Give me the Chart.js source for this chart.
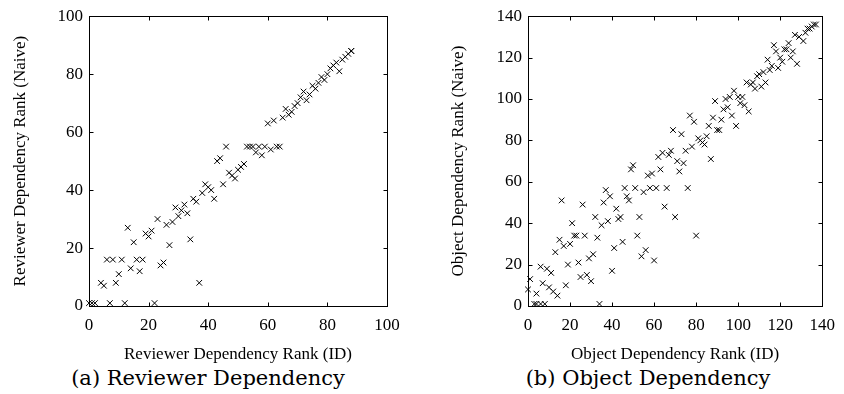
<!DOCTYPE html>
<html>
  <head>
    <title>Dependency rank: ID vs Naive</title>
    <script src="https://cdn.jsdelivr.net/npm/chart.js"></script>
    <style>
      body { margin: 0; background: #fff; width: 844px; height: 394px; position: relative; overflow: hidden; }
      canvas { position: absolute; top: 0; }
      #chartA { left: 0; }
      #chartB { left: 422px; }
      .caption { position: absolute; top: 366px; width: 400px; text-align: center; font-family: "DejaVu Serif", serif; font-size: 21px; line-height: 24px; color: #000; white-space: nowrap; }
    </style>
  </head>
  <body>
    <canvas id="chartA" width="420" height="365"></canvas>
    <canvas id="chartB" width="422" height="365"></canvas>
    <div class="caption" style="left: 8px">(a) Reviewer Dependency</div>
    <div class="caption" style="left: 448px">(b) Object Dependency</div>

    <script>
      // (a) reviewer dependency: rank by ID vs rank by naive method
      const reviewerID = [
        0, 1, 2, 7, 12, 22, 4, 5, 9, 10, 6, 8, 11, 16, 18, 14, 17, 13, 15, 19,
        20, 21, 23, 24, 25, 27, 26, 28, 29, 30, 31, 32, 33, 34, 35, 36, 37, 38, 39, 40,
        41, 42, 45, 43, 44, 46, 47, 48, 49, 50, 51, 52, 53, 54, 55, 57, 59, 63, 64, 56,
        58, 61, 60, 62, 65, 67, 68, 66, 69, 70, 71, 72, 73, 74, 75, 76, 77, 78, 79, 80,
        81, 82, 83, 84, 85, 86, 87, 88, 88
      ];
      const reviewerNaive = [
        1, 1, 1, 1, 1, 1, 8, 7, 8, 11, 16, 16, 16, 16, 16, 13, 12, 27, 22, 25,
        24, 26, 30, 14, 15, 21, 28, 29, 34, 31, 33, 35, 32, 23, 37, 36, 8, 39, 42, 41,
        40, 37, 42, 50, 51, 55, 46, 45, 44, 47, 48, 49, 55, 55, 55, 55, 55, 55, 55, 53,
        52, 54, 63, 64, 65, 66, 67, 68, 69, 70, 72, 74, 71, 73, 76, 75, 77, 79, 78, 80,
        82, 83, 84, 81, 85, 86, 87, 88, 88
      ];

      // (b) object dependency
      const objectID = [
        137, 136, 135, 134, 133, 132, 127, 129, 131, 128, 125, 126, 124, 122, 123, 118, 117, 120, 121, 119,
        116, 115, 114, 113, 111, 112, 110, 109, 108, 107, 106, 104, 105, 103, 101, 100, 102, 98, 96, 94,
        95, 93, 97, 99, 92, 90, 91, 89, 88, 86, 85, 83, 84, 82, 81, 78, 75, 77, 79, 74,
        72, 71, 73, 69, 87, 76, 68, 67, 64, 62, 63, 57, 59, 50, 49, 66, 61, 58, 55, 51,
        46, 47, 48, 37, 39, 16, 26, 36, 65, 70, 80, 42, 43, 44, 53, 32, 35, 38, 21, 22,
        23, 27, 1, 0, 4, 3, 4, 6, 8, 6, 7, 9, 11, 10, 12, 14, 15, 13, 17, 20,
        18, 19, 24, 25, 28, 30, 29, 31, 33, 34, 40, 41, 45, 52, 56, 54, 60
      ];
      const objectNaive = [
        136, 136, 135, 134, 134, 132, 131, 130, 128, 117, 120, 123, 127, 124, 124, 123, 126, 120, 118, 115,
        116, 114, 119, 108, 106, 113, 112, 111, 105, 108, 107, 108, 94, 97, 98, 101, 101, 104, 101, 100,
        96, 95, 92, 87, 90, 85, 85, 99, 91, 87, 82, 79, 78, 80, 81, 77, 75, 92, 89, 69,
        65, 70, 83, 85, 71, 57, 75, 73, 74, 72, 66, 63, 64, 68, 66, 57, 57, 57, 55, 57,
        57, 53, 51, 56, 53, 51, 49, 50, 48, 43, 34, 47, 42, 43, 43, 43, 39, 41, 40, 34,
        34, 34, 13, 8, 6, 1, 1, 1, 1, 19, 11, 18, 16, 9, 7, 5, 32, 26, 29, 30,
        10, 20, 21, 14, 15, 12, 23, 25, 33, 1, 17, 28, 31, 34, 27, 24, 22
      ];

      const xTicksA = [0, 20, 40, 60, 80, 100];
      const xTicksB = [0, 20, 40, 60, 80, 100, 120, 140];

      Chart.defaults.font.family = "'Liberation Serif', 'Times New Roman', serif";
      Chart.defaults.color = "#000";

      // gnuplot style box with tick marks pointing inwards on all four sides
      const framePlugin = {
        id: "frame",
        afterDraw(chart) {
          const { ctx, chartArea: a, scales } = chart;
          const l = Math.round(a.left) + 0.5;
          const r = Math.round(a.right) + 0.5;
          const t = Math.round(a.top) + 0.5;
          const b = Math.round(a.bottom) + 0.5;
          const len = 4;
          ctx.save();
          ctx.strokeStyle = "#000";
          ctx.lineWidth = 1;
          ctx.strokeRect(l, t, r - l, b - t);
          ctx.beginPath();
          scales.x.ticks.forEach((tk) => {
            const px = Math.round(scales.x.getPixelForValue(tk.value)) + 0.5;
            ctx.moveTo(px, b);
            ctx.lineTo(px, b - len);
            ctx.moveTo(px, t);
            ctx.lineTo(px, t + len);
          });
          scales.y.ticks.forEach((tk) => {
            const py = Math.round(scales.y.getPixelForValue(tk.value)) + 0.5;
            ctx.moveTo(l, py);
            ctx.lineTo(l + len, py);
            ctx.moveTo(r, py);
            ctx.lineTo(r - len, py);
          });
          ctx.stroke();
          ctx.restore();
        },
      };

      function makeChart(id, xs, ys, tickVals, opts) {
        const maxV = tickVals[tickVals.length - 1];
        const pts = xs.map((x, i) => ({ x: x, y: ys[i] }));
        return new Chart(document.getElementById(id), {
          type: "scatter",
          data: {
            datasets: [
              {
                data: pts,
                pointStyle: "crossRot",
                pointRadius: 4,
                pointBorderWidth: 1,
                borderColor: "#000",
                backgroundColor: "#000",
                clip: false,
              },
            ],
          },
          options: {
            responsive: false,
            animation: false,
            layout: { padding: { top: 16, right: opts.padRight, bottom: 0, left: 0 } },
            plugins: { legend: { display: false }, tooltip: { enabled: false } },
            scales: {
              x: {
                type: "linear",
                min: 0,
                max: maxV,
                afterBuildTicks: (s) => { s.ticks = tickVals.map((v) => ({ value: v })); },
                ticks: { padding: 9, font: { size: 17 }, maxRotation: 0, autoSkip: false },
                grid: { display: false, drawTicks: false },
                border: { display: false },
                title: {
                  display: true,
                  text: opts.xTitle,
                  font: { size: 17 },
                  padding: { top: 5, bottom: 0 },
                },
                afterFit: (s) => { s.height = 59; },
              },
              y: {
                type: "linear",
                min: 0,
                max: maxV,
                afterBuildTicks: (s) => { s.ticks = tickVals.map((v) => ({ value: v })); },
                ticks: { padding: 6, font: { size: 17 }, autoSkip: false },
                grid: { display: false, drawTicks: false },
                border: { display: false },
                title: {
                  display: true,
                  text: opts.yTitle,
                  font: { size: 17 },
                  padding: { top: opts.yTitlePad, bottom: 0 },
                },
                afterFit: (s) => { s.width = opts.yWidth; },
              },
            },
          },
          plugins: [framePlugin],
        });
      }

      makeChart("chartA", reviewerID, reviewerNaive, xTicksA, {
        xTitle: "Reviewer Dependency Rank (ID)",
        yTitle: "Reviewer Dependency Rank (Naive)",
        yWidth: 89,
        yTitlePad: 10,
        padRight: 33,
      });

      makeChart("chartB", objectID, objectNaive, xTicksB, {
        xTitle: "Object Dependency Rank (ID)",
        yTitle: "Object Dependency Rank (Naive)",
        yWidth: 106,
        yTitlePad: 26,
        padRight: 18,
      });
    </script>
  </body>
</html>
